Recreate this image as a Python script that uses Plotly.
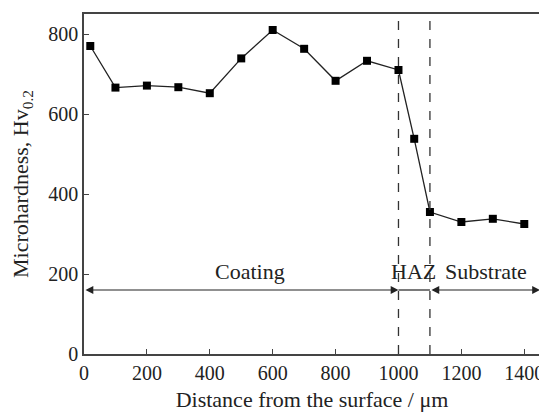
import plotly.graph_objects as go

distance = [20, 100, 200, 300, 400, 500, 600, 700, 800, 900, 1000, 1050, 1100, 1200, 1300, 1400]
hardness = [770, 666, 671, 667, 652, 739, 810, 763, 683, 733, 710, 538, 355, 330, 338, 325]
boundaries = [1000, 1100]
zone_labels = ["Coating", "HAZ", "Substrate"]
zone_label_x = [528, 1047, 1278]
zone_spans = [(0, 1000), (1000, 1100), (1100, 1450)]
x_ticks = [0, 200, 400, 600, 800, 1000, 1200, 1400]
y_ticks = [0, 200, 400, 600, 800]

font_family = "Liberation Serif"
txt_color = "#222222"
fig = go.Figure()
fig.add_trace(go.Scatter(
    x=distance, y=hardness, mode="lines+markers",
    line=dict(color="#222222", width=1.3),
    marker=dict(symbol="square", size=8, color="black"),
    showlegend=False, cliponaxis=False,
))

for b in boundaries:
    fig.add_shape(type="line", x0=b, x1=b, y0=0, y1=850, xref="x", yref="y",
                  line=dict(color="#333333", width=1.3, dash="dash"))

arrow_y = 160
fig.add_annotation(x=zone_spans[0][1], y=arrow_y, ax=zone_spans[0][0], ay=arrow_y,
                   xref="x", yref="y", axref="x", ayref="y", text="",
                   showarrow=True, arrowhead=2, startarrowhead=2, arrowside="end+start",
                   arrowwidth=1.2, arrowsize=1.3, startarrowsize=1.3, arrowcolor="#222222")
fig.add_shape(type="line", x0=zone_spans[1][0], x1=zone_spans[1][1], y0=arrow_y, y1=arrow_y,
              xref="x", yref="y", line=dict(color="#222222", width=1.2))
fig.add_annotation(x=zone_spans[2][1], y=arrow_y, ax=zone_spans[2][0], ay=arrow_y,
                   xref="x", yref="y", axref="x", ayref="y", text="",
                   showarrow=True, arrowhead=2, startarrowhead=2, arrowside="end+start",
                   arrowwidth=1.2, arrowsize=1.3, startarrowsize=1.3, arrowcolor="#222222")

for lbl, lx in zip(zone_labels, zone_label_x):
    fig.add_annotation(x=lx, y=207, xref="x", yref="y", text=lbl, showarrow=False,
                       font=dict(family=font_family, size=22, color=txt_color))

axis_common = dict(showgrid=False, zeroline=False, showline=True, linecolor="#444444",
                   linewidth=1.5, mirror=True, ticks="inside", ticklen=5, tickwidth=1.2,
                   tickcolor="#444444", automargin=False,
                   tickfont=dict(family=font_family, size=20, color=txt_color))

fig.update_xaxes(range=[0, 1450], tickvals=x_ticks,
                 title=dict(text="Distance from the surface / μm", standoff=9,
                            font=dict(family=font_family, size=22, color=txt_color)),
                 **axis_common)
fig.update_yaxes(range=[0, 850], tickvals=y_ticks,
                 title=dict(text="Microhardness, Hv<sub>0.2</sub>", standoff=15,
                            font=dict(family=font_family, size=22, color=txt_color)),
                 **axis_common)

fig.update_layout(width=539, height=407, margin=dict(l=76, r=7, t=6, b=61),
                  plot_bgcolor="white", paper_bgcolor="white")

fig.write_html("out.html")
